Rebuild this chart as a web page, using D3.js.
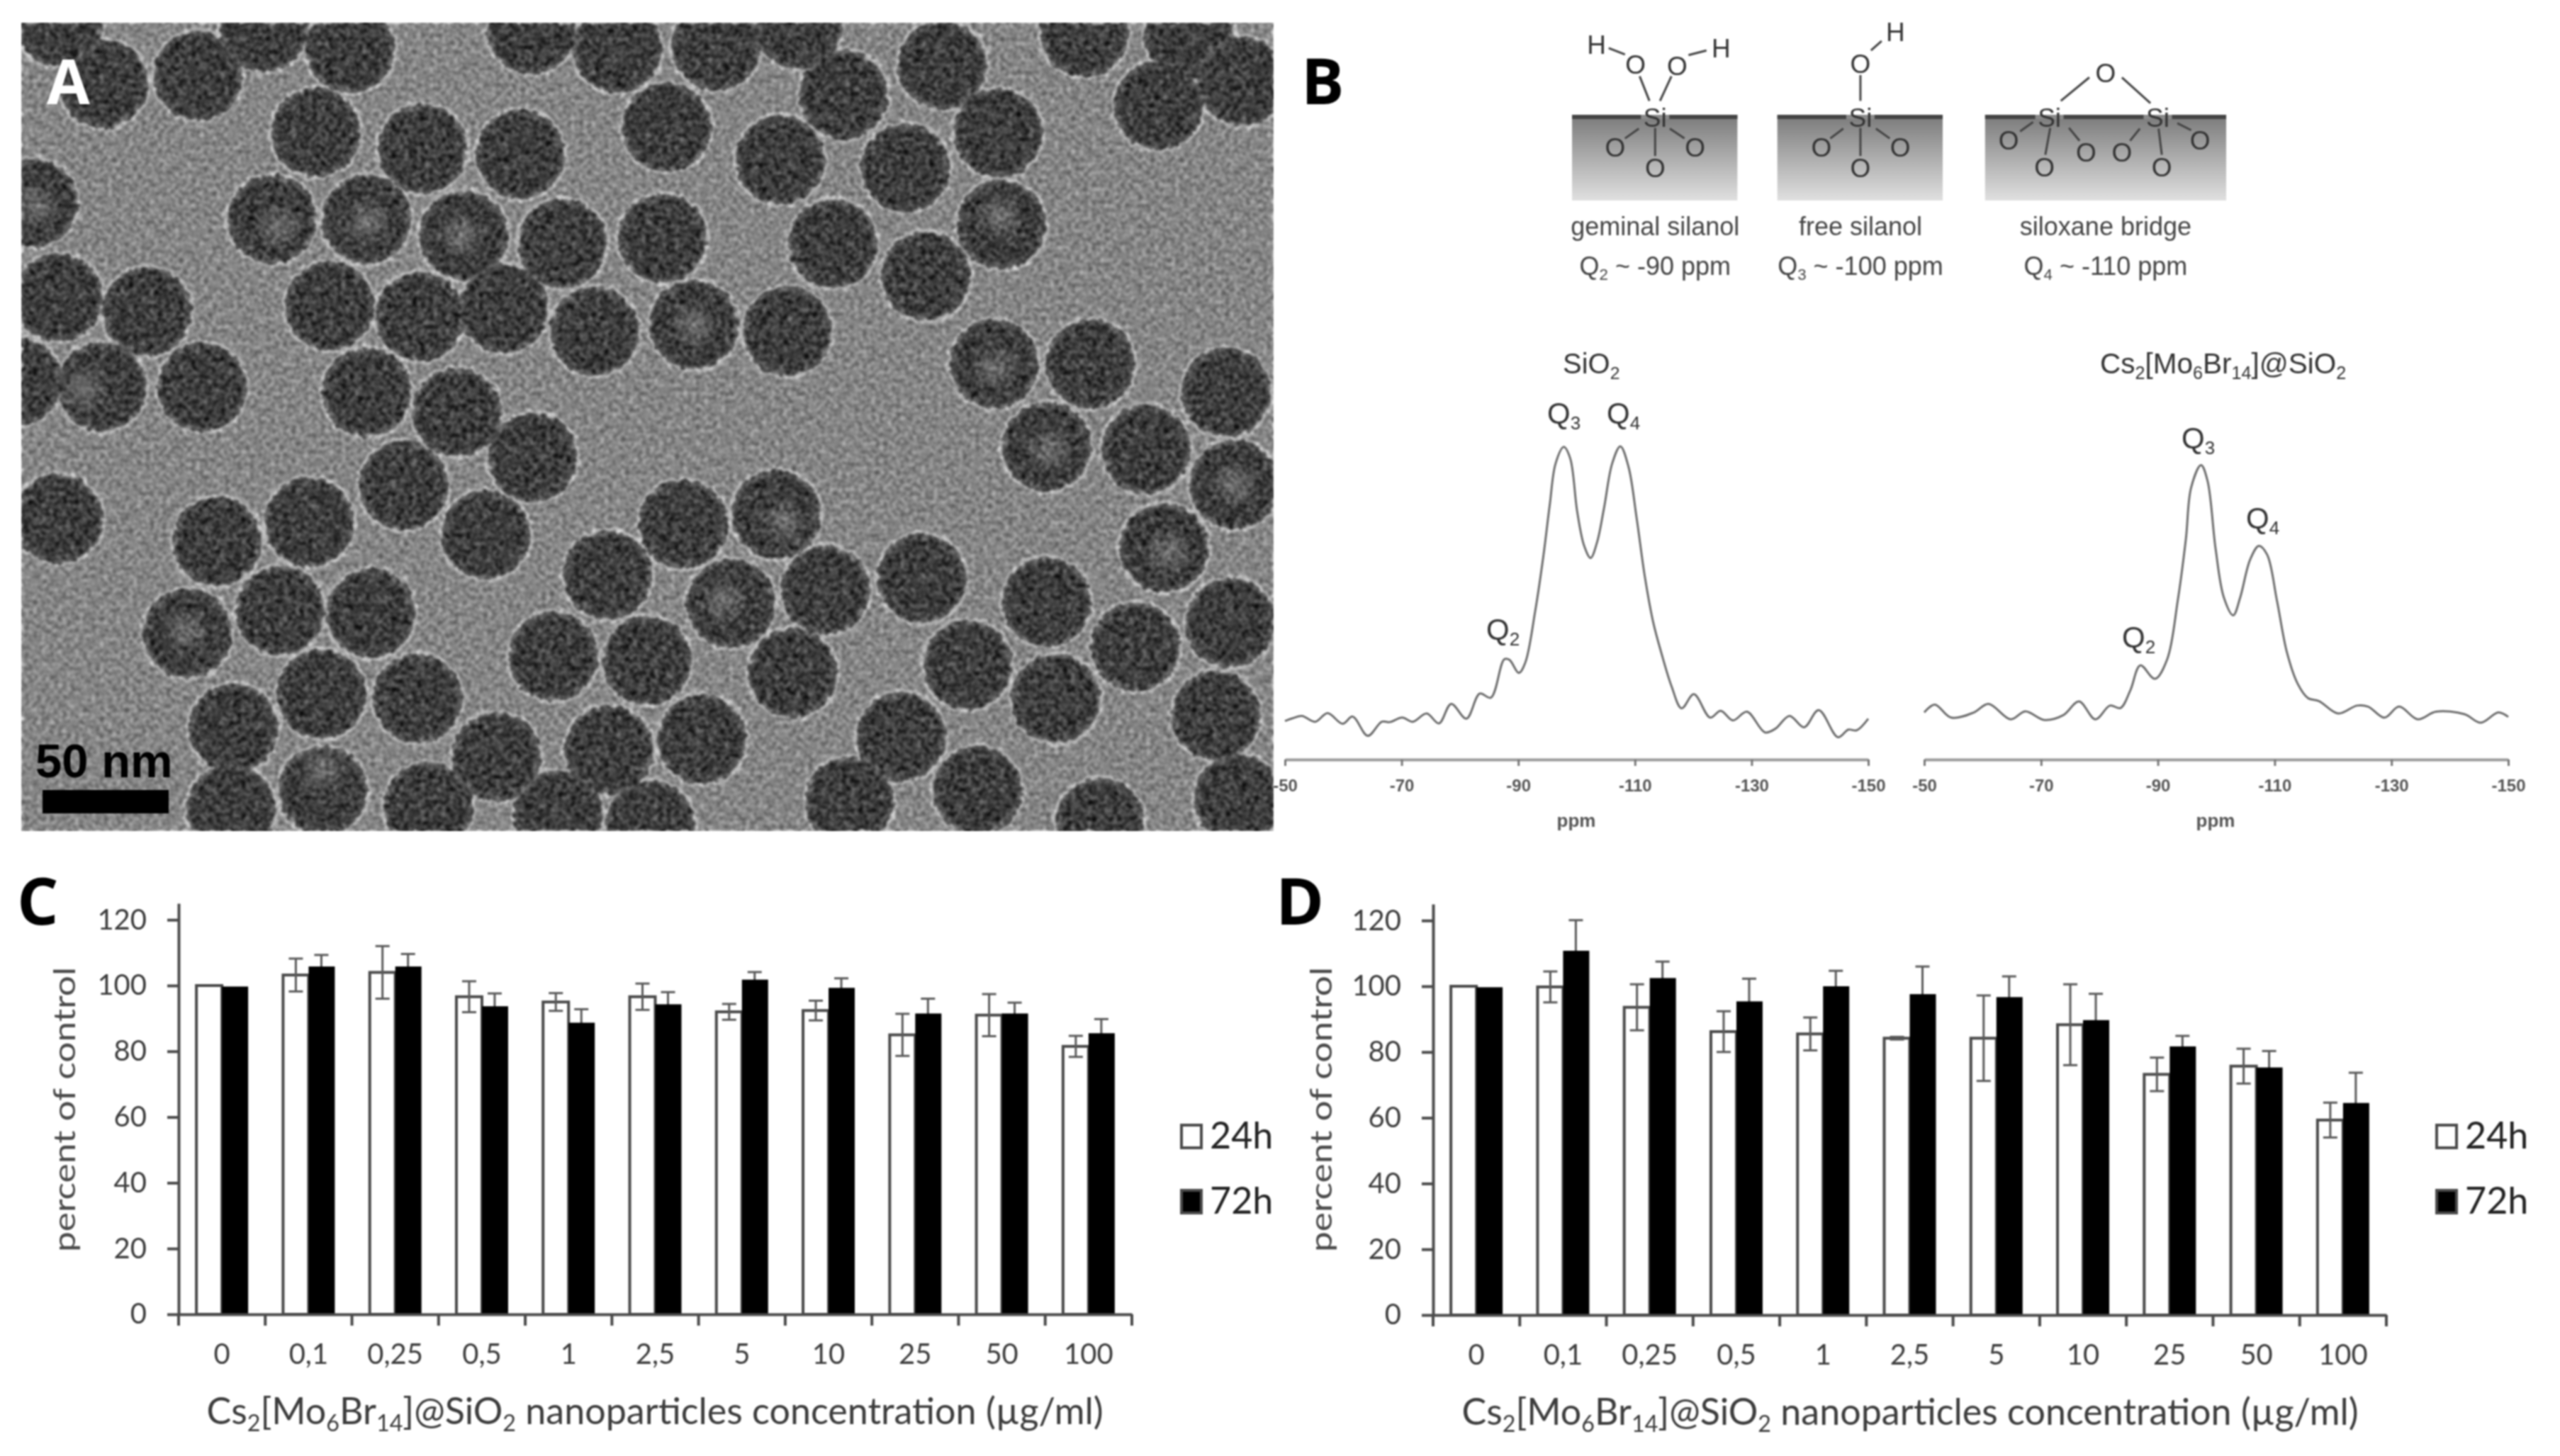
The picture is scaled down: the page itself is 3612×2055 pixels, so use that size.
<!DOCTYPE html>
<html><head><meta charset="utf-8">
<script src="https://cdn.jsdelivr.net/npm/d3@7"></script>
<style>html,body{margin:0;padding:0;background:#fff}svg{display:block}</style>
</head><body><svg id="fig" width="3612" height="2055" viewBox="0 0 3612 2055"></svg>
<script>
// ---- bar chart data ----
const concentrations = ["0","0,1","0,25","0,5","1","2,5","5","10","25","50","100"];
const yTicks = [0,20,40,60,80,100,120];
const seriesNames = ["24h","72h"];
const c24 = [100,103.2,104,96.6,95,96.6,92,92.4,85,91,81.5];
const c72 = [99.7,105.8,105.8,93.7,88.7,94.3,101.8,99.3,91.5,91.5,85.5];
const c24err = [0,5,8,4.7,2.7,4,2.4,3,6.4,6.4,3.2];
const c72err = [0,3.5,3.8,3.9,4.1,3.7,2.3,2.9,4.5,3.3,4.3];
const d24 = [100,99.8,93.6,86.2,85.5,84.2,84.2,88.3,73.2,75.7,59.3];
const d72 = [99.7,110.8,102.5,95.4,100,97.6,96.7,89.7,81.7,75.3,64.5];
const d24err = [0,4.7,7,6.2,5,0.4,13,12.3,5.1,5.3,5.3];
const d72err = [0,9.3,5,6.9,4.7,8.4,6.3,8,3.2,5,9.2];
// ---- NMR spectra ----
const nmrTicks = [-50,-70,-90,-110,-130,-150];
const sio2Ppm = [50,51.3,52.9,55.2,57.3,59.9,61.6,64.2,66.6,68,70.1,71.9,74.3,76.4,78.5,81.1,83.4,85.3,87.6,88.5,90.1,91.2,92.9,94.3,95.4,96.4,97.8,98.9,100.1,101.3,102.4,103.5,104.7,106.1,107.5,108.9,110.3,111.7,113.1,114.5,116.3,118,120.1,122.9,124.7,126.8,129.2,132.3,134.1,136.5,139,141.5,144.8,146.6,148,150];
const sio2Int = [110,118,125,108,133,102,123,67,108,107,120,108,132,103,160,117,190,178,290,288,250,280,430,590,740,860,908,875,720,620,585,630,730,860,910,850,700,530,400,310,210,147,188,120,140,112,137,77,88,125,92,142,63,85,83,117];
const csPpm = [50,51.8,54.6,58.5,61,64.8,67.3,70.6,73.8,76.5,79.3,81.8,83.6,85.3,87,89.5,91.6,93.4,94.8,95.7,97.4,98.5,99.9,101.3,102.9,104.1,105.8,107.3,108.7,110.4,112.1,113.9,115.7,117.6,120.9,124.1,126,128.8,131.3,134.5,137.6,142.5,145.3,148.3,150];
const csInt = [135,158,120,135,160,115,138,113,127,167,115,155,148,200,272,233,290,460,640,790,855,810,610,470,418,470,580,620,595,460,310,220,177,168,132,155,152,120,152,115,137,130,105,135,122];
// ---- micrograph particle centres (image units) ----
const partX = [125,240,425,320,70,645,750,870,970,1145,1318,1445,1510,1408,1025,1213,1100,948,810,632,513,383,40,330,445,563,683,805,1012,1125,1217,70,178,400,510,612,722,843,957,20,123,245,445,555,647,490,590,1208,1325,1490,1272,1393,1500,1415,70,263,375,830,943,340,450,227,738,888,1003,1120,1272,1380,1495,672,786,963,1176,1283,1478,390,507,283,603,740,853,1095,392,280,520,678,790,1032,1188,1337,1505];
const partY = [155,140,90,50,40,55,90,85,45,120,60,65,150,195,175,245,310,295,235,285,275,245,375,405,405,435,450,440,450,510,415,550,575,565,585,570,612,600,612,705,715,715,725,762,845,897,988,672,672,725,825,830,895,1012,958,1000,965,968,950,1128,1133,1170,1062,1115,1090,1068,1112,1195,1150,1212,1220,1243,1228,1290,1322,1282,1290,1345,1398,1385,1365,1360,1460,1495,1490,1505,1525,1480,1460,1520,1475];
const lightX = [338,843,1275,1500,1210,42,225,392,560,100,953,880,1215,445,1420];
const lightY = [420,600,830,895,680,380,1165,1420,435,720,965,1110,400,410,1020];
// ---- schematic ----
const atomText = ["Si","O","O","H","H","O","O","O","Si","O","H","O","O","O","Si","Si","O","O","O","O","O","O","O"];
const atomX = [457,433,484,385,538,408,506,457,709,709,752,661,758,709,941,1074,1010,891,986,935,1030,1126,1079];
const atomY = [500,275,280,190,205,628,628,715,500,272,135,628,628,715,500,500,310,598,650,712,650,598,712];
const bondX1 = [450,463,400,520,437,475,457,709,735,688,728,709,990,1030,921,965,942,1052,1098,1075];
const bondY1 = [430,430,205,215,548,548,545,320,175,548,548,545,330,330,520,545,545,548,525,548];
const bondX2 = [438,477,420,498,420,493,457,709,722,672,745,709,955,1065,905,978,936,1040,1115,1079];
const bondY2 = [325,325,232,235,590,590,665,430,215,590,590,665,430,440,560,600,660,600,555,660];
const slabLeft = [355,607,862];
const slabRight = [558,810,1158];
const slabNames = ["geminal silanol","free silanol","siloxane bridge"];
const slabQ = [["Q","2"," ~ -90 ppm"],["Q","3"," ~ -100 ppm"],["Q","4"," ~ -110 ppm"]];
const slabCentres = [457,709,1010];

const svg = d3.select("#fig");
svg.append("rect").attr("width",3612).attr("height",2055).attr("fill","#fff");
const defs = svg.append("defs");
const root = svg.append("g").style("filter","blur(1.1px)");
const LATO = "Lato, Carlito, sans-serif", ARIAL = "'Liberation Sans', Arial, sans-serif";

function rich(t, parts, size){
  parts.forEach(p=>{
    const s=t.append("tspan").text(p[0]);
    if(p[1]) s.attr("font-size",size*0.62).attr("dy",size*0.2);
    else if(p.prev) s.attr("dy",-size*0.2);
  });
  return t;
}
function alt(arr){ return arr.map((s,i)=>{const o=[s,i%2==1]; if(i%2==0&&i>0)o.prev=true; return o;}); }

// ---------- Panels C & D ----------
function barPanel(o){
  const g = root.append("g");
  const x = d3.scaleBand().domain(concentrations).range([o.x0,o.x1]).paddingInner(0).paddingOuter(0);
  const y = d3.scaleLinear().domain([0,125]).range([o.base,o.base-580]);
  const barW = 36, off = (x.bandwidth()-2*barW)/2;
  const ink="#4a4a4a";
  const rows = concentrations.map((c,i)=>({c,a:o.a[i],b:o.b[i],ea:o.ea[i],eb:o.eb[i]}));
  g.selectAll("rect.w").data(rows).join("rect").attr("class","w")
    .attr("x",d=>x(d.c)+off).attr("width",barW).attr("y",d=>y(d.a)).attr("height",d=>y(0)-y(d.a))
    .attr("fill","#fff").attr("stroke",ink).attr("stroke-width",4);
  const whisk=(val,err,dx)=>{
    const w=g.selectAll(null).data(rows.filter(d=>d[err]>0)).join("g").attr("stroke","#5a5a5a").attr("stroke-width",3);
    const cx=d=>x(d.c)+off+dx;
    w.append("line").attr("x1",cx).attr("x2",cx).attr("y1",d=>y(d[val]+d[err])).attr("y2",d=>y(d[val]-d[err]));
    w.append("line").attr("x1",d=>cx(d)-10).attr("x2",d=>cx(d)+10).attr("y1",d=>y(d[val]+d[err])).attr("y2",d=>y(d[val]+d[err]));
    w.append("line").attr("x1",d=>cx(d)-10).attr("x2",d=>cx(d)+10).attr("y1",d=>y(d[val]-d[err])).attr("y2",d=>y(d[val]-d[err]));
  };
  whisk("a","ea",barW/2);
  whisk("b","eb",barW*1.5);
  g.selectAll("rect.k").data(rows).join("rect").attr("class","k")
    .attr("x",d=>x(d.c)+off+barW).attr("width",barW+1).attr("y",d=>y(d.b)).attr("height",d=>y(0)-y(d.b)).attr("fill","#000");
  const ya=g.append("g").attr("transform",`translate(${o.x0},0)`)
    .call(d3.axisLeft(y).tickValues(yTicks).tickSize(16).tickPadding(29).tickSizeOuter(0));
  ya.select(".domain").attr("stroke",ink).attr("stroke-width",4);
  ya.selectAll(".tick line").attr("stroke",ink).attr("stroke-width",4);
  ya.selectAll("text").attr("font-family",LATO).attr("font-size",40).attr("fill","#3c3c3c");
  const xa=g.append("g").attr("transform",`translate(0,${o.base})`)
    .call(d3.axisBottom(x).tickSize(0).tickPadding(42));
  xa.select(".domain").attr("stroke",ink).attr("stroke-width",4);
  xa.selectAll("text").attr("font-family",LATO).attr("font-size",40).attr("fill","#3c3c3c");
  const bounds = concentrations.map(c=>x(c)).concat([o.x1]);
  g.append("g").selectAll("line").data(bounds).join("line")
    .attr("x1",d=>d).attr("x2",d=>d).attr("y1",o.base).attr("y2",o.base+16).attr("stroke",ink).attr("stroke-width",4);
  const t=g.append("text").attr("x",o.titleX).attr("y",o.base+155).attr("text-anchor","middle")
    .attr("font-family",LATO).attr("font-size",52).attr("fill","#3c3c3c");
  rich(t,alt(["Cs","2","[Mo","6","Br","14","]@SiO","2"," nanoparticles concentration (µg/ml)"]),52);
  g.append("text").text("percent of control")
    .attr("transform",`translate(${o.ytitleX},1566) rotate(-90)`).attr("text-anchor","middle")
    .attr("font-family",LATO).attr("font-size",42).attr("fill","#4a4a4a")
    .attr("textLength",402).attr("lengthAdjust","spacingAndGlyphs");
  g.append("text").text(o.letter).attr("x",o.letterX).attr("y",1305)
    .attr("font-family","'Open Sans',sans-serif").attr("font-weight",700).attr("font-size",92).attr("fill","#000");
  const clipId="leg"+o.letter;
  defs.append("clipPath").attr("id",clipId).append("rect").attr("x",o.legX-10).attr("y",1500).attr("width",o.clipW).attr("height",300);
  const lg=g.append("g").attr("clip-path",`url(#${clipId})`);
  const ly=d3.scalePoint().domain(seriesNames).range([1604,1696]);
  lg.selectAll("rect").data(seriesNames).join("rect")
    .attr("x",o.legX).attr("y",d=>ly(d)-16).attr("width",28).attr("height",32)
    .attr("fill",(d,i)=>i?"#000":"#fff").attr("stroke",ink).attr("stroke-width",4);
  lg.selectAll("text").data(seriesNames).join("text").text(d=>d)
    .attr("x",o.legX+40).attr("y",d=>ly(d)+17)
    .attr("font-family",LATO).attr("font-size",52).attr("fill","#222");
}
barPanel({letter:"C",letterX:24,x0:252,x1:1597,base:1855,a:c24,b:c72,ea:c24err,eb:c72err,titleX:924,ytitleX:106,legX:1667,clipW:140});
barPanel({letter:"D",letterX:1800,x0:2022,x1:3367,base:1856,a:d24,b:d72,ea:d24err,eb:d72err,titleX:2695,ytitleX:1879,legX:3438,clipW:140});

// ---------- Panel B: NMR ----------
function spectrum(o){
  const g=root.append("g");
  const x=d3.scaleLinear().domain([-50,-150]).range([o.x0,o.x1]);
  const y=d3.scaleLinear().domain([0,910]).range([1071,1071-910/2.063]);
  const line=d3.line().x((d,i)=>x(-o.ppm[i])).y(d=>y(d)).curve(d3.curveCatmullRom.alpha(0.5));
  g.append("path").attr("d",line(o.ints)).attr("fill","none").attr("stroke","#6e6e6e").attr("stroke-width",3);
  const ax=g.append("g").attr("transform","translate(0,1072)").call(d3.axisBottom(x).tickValues(nmrTicks).tickFormat(d=>d).tickSize(9).tickPadding(19).tickSizeOuter(0));
  ax.select(".domain").attr("stroke","#9a9a9a").attr("stroke-width",4);
  ax.selectAll(".tick line").attr("stroke","#777").attr("stroke-width",3);
  ax.selectAll("text").attr("font-family",ARIAL).attr("font-weight",700).attr("font-size",24).attr("fill","#555");
  g.append("text").text("ppm").attr("x",o.ppmX).attr("y",1167).attr("text-anchor","middle")
    .attr("font-family",ARIAL).attr("font-weight",700).attr("font-size",26).attr("fill","#555");
  const t=g.append("text").attr("x",o.titleX).attr("y",o.titleY).attr("font-family",ARIAL).attr("font-size",o.titleSize).attr("fill","#333");
  rich(t,alt(o.title),o.titleSize);
  o.q.forEach(q=>{
    const s=g.append("text").attr("x",q[2]).attr("y",q[3]).attr("font-family",ARIAL).attr("font-size",42).attr("fill","#333");
    rich(s,alt([q[0],q[1]]),42);
  });
}
spectrum({x0:1813,x1:2636,ppm:sio2Ppm,ints:sio2Int,ppmX:2224,title:["SiO","2"],titleX:2205,titleY:527,titleSize:40,
  q:[["Q","3",2183,598],["Q","4",2267,598],["Q","2",2097,903]]});
spectrum({x0:2715,x1:3539,ppm:csPpm,ints:csInt,ppmX:3126,title:["Cs","2","[Mo","6","Br","14","]@SiO","2"],titleX:2963,titleY:527,titleSize:40.5,
  q:[["Q","3",3078,633],["Q","4",3169,746],["Q","2",2994,914]]});

// ---------- Panel B: schematic ----------
const sx=d3.scaleLinear().domain([0,1568]).range([1810,1810+1568/0.87]);
const sy=d3.scaleLinear().domain([0,1400]).range([0,1400/3.02]);
const grad=defs.append("linearGradient").attr("id","slab").attr("x1",0).attr("x2",0).attr("y1",0).attr("y2",1);
grad.append("stop").attr("offset","0").attr("stop-color","#7a7a7a");
grad.append("stop").attr("offset","1").attr("stop-color","#e0e0e0");
const sg=root.append("g");
sg.selectAll("rect.s").data(slabLeft).join("rect").attr("class","s")
  .attr("x",d=>sx(d)).attr("y",162).attr("height",121).attr("width",(d,i)=>sx(slabRight[i])-sx(d)).attr("fill","url(#slab)");
sg.selectAll("rect.t").data(slabLeft).join("rect").attr("class","t")
  .attr("x",d=>sx(d)).attr("y",162).attr("height",6).attr("width",(d,i)=>sx(slabRight[i])-sx(d)).attr("fill","#444");
sg.selectAll("rect.h").data(atomText.map((a,i)=>({a,i})).filter(d=>d.a==="Si")).join("rect").attr("class","h")
  .attr("x",d=>sx(atomX[d.i])-20).attr("width",40).attr("y",162).attr("height",6).attr("fill","#8a8a8a");
sg.selectAll("line").data(bondX1).join("line")
  .attr("x1",d=>sx(d)).attr("y1",(d,i)=>sy(bondY1[i])).attr("x2",(d,i)=>sx(bondX2[i])).attr("y2",(d,i)=>sy(bondY2[i]))
  .attr("stroke","#444").attr("stroke-width",3);
sg.selectAll("text.a").data(atomText).join("text").attr("class","a").text(d=>d)
  .attr("x",(d,i)=>sx(atomX[i])).attr("y",(d,i)=>sy(atomY[i])+13).attr("text-anchor","middle")
  .attr("font-family",ARIAL).attr("font-size",37).attr("fill","#333");
sg.selectAll("text.n").data(slabNames).join("text").attr("class","n").text(d=>d)
  .attr("x",(d,i)=>sx(slabCentres[i])).attr("y",332).attr("text-anchor","middle")
  .attr("font-family",ARIAL).attr("font-size",36).attr("fill","#444");
slabQ.forEach((q,i)=>{
  const t=sg.append("text").attr("x",sx(slabCentres[i])).attr("y",388).attr("text-anchor","middle")
    .attr("font-family",ARIAL).attr("font-size",36).attr("fill","#444");
  rich(t,alt(q),36);
});
root.append("text").text("B").attr("x",1836).attr("y",147)
  .attr("font-family","'Open Sans',sans-serif").attr("font-weight",700).attr("font-size",90).attr("fill","#000");

// ---------- Panel A: micrograph ----------
const ix=d3.scaleLinear().domain([25,1548]).range([30,1797]);
const iy=d3.scaleLinear().domain([42,1535]).range([32,1173]);
defs.append("clipPath").attr("id","micro").append("rect").attr("x",30).attr("y",32).attr("width",1767).attr("height",1141);
const f=defs.append("filter").attr("id","tem").attr("x",0).attr("y",0).attr("width",1).attr("height",1)
  .attr("filterUnits","objectBoundingBox").attr("color-interpolation-filters","sRGB");
f.append("feTurbulence").attr("type","fractalNoise").attr("baseFrequency",0.1).attr("numOctaves",2).attr("seed",7).attr("result","wob");
f.append("feDisplacementMap").attr("in","SourceGraphic").attr("in2","wob").attr("scale",11).attr("xChannelSelector","R").attr("yChannelSelector","G").attr("result","disp");
f.append("feTurbulence").attr("type","fractalNoise").attr("baseFrequency",0.17).attr("numOctaves",3).attr("seed",21).attr("result","n0");
f.append("feColorMatrix").attr("in","n0").attr("type","matrix")
  .attr("values","1.6 0 0 0 -0.3  1.6 0 0 0 -0.3  1.6 0 0 0 -0.3  0 0 0 0 1").attr("result","grain");
f.append("feComposite").attr("in","disp").attr("in2","grain").attr("operator","arithmetic")
  .attr("k1",0).attr("k2",1).attr("k3",0.42).attr("k4",-0.21).attr("result","mix");
f.append("feGaussianBlur").attr("in","mix").attr("stdDeviation",1.8);
// blotchy interior of the particles only
const b=defs.append("filter").attr("id","blotch").attr("filterUnits","userSpaceOnUse")
  .attr("x",30).attr("y",32).attr("width",1767).attr("height",1141).attr("color-interpolation-filters","sRGB");
b.append("feTurbulence").attr("type","fractalNoise").attr("baseFrequency",0.1).attr("numOctaves",2).attr("seed",4).attr("result","n1");
b.append("feColorMatrix").attr("in","n1").attr("type","matrix")
  .attr("values","1.6 0 0 0 -0.3  1.6 0 0 0 -0.3  1.6 0 0 0 -0.3  0 0 0 0 1").attr("result","tex");
b.append("feComposite").attr("in","SourceGraphic").attr("in2","tex").attr("operator","arithmetic")
  .attr("k1",0).attr("k2",1).attr("k3",0.22).attr("k4",-0.12).attr("result","lit");
b.append("feComposite").attr("in","lit").attr("in2","SourceAlpha").attr("operator","in");
const pg=defs.append("radialGradient").attr("id","ball");
pg.append("stop").attr("offset","0").attr("stop-color","#424242");
pg.append("stop").attr("offset","0.84").attr("stop-color","#3e3e3e");
pg.append("stop").attr("offset","1").attr("stop-color","#5c5c5c");
const lg2=defs.append("radialGradient").attr("id","lite");
lg2.append("stop").attr("offset","0").attr("stop-color","#8c8c8c").attr("stop-opacity",0.7);
lg2.append("stop").attr("offset","1").attr("stop-color","#8c8c8c").attr("stop-opacity",0);
const mg=root.append("g").attr("clip-path","url(#micro)");
const film=mg.append("g").attr("filter","url(#tem)");
film.append("rect").attr("x",30).attr("y",32).attr("width",1767).attr("height",1141).attr("fill","#858585");
const idx=d3.range(partX.length);
film.append("g").selectAll("circle").data(idx).join("circle")
  .attr("cx",i=>ix(partX[i])).attr("cy",i=>iy(partY[i])).attr("r",67).attr("fill","#b8b8b8");
const balls=film.append("g").attr("filter","url(#blotch)");
balls.selectAll("circle").data(idx).join("circle")
  .attr("cx",i=>ix(partX[i])).attr("cy",i=>iy(partY[i])).attr("r",63).attr("fill","url(#ball)");
film.append("g").selectAll("circle").data(lightX).join("circle")
  .attr("cx",d=>ix(d)).attr("cy",(d,i)=>iy(lightY[i])).attr("r",34).attr("fill","url(#lite)");
mg.append("text").text("A").attr("x",66).attr("y",147).attr("font-family","'Open Sans',sans-serif").attr("font-weight",700).attr("font-size",88).attr("fill","#fff");
mg.append("text").text("50 nm").attr("x",50).attr("y",1097).attr("font-family",ARIAL).attr("font-weight",700).attr("font-size",67).attr("fill","#000");
const bar50=d3.scaleLinear().domain([0,50]).range([60,238]);
mg.append("rect").attr("x",bar50(0)).attr("y",1115).attr("width",bar50(50)-bar50(0)).attr("height",33).attr("fill","#000");
</script></body></html>
